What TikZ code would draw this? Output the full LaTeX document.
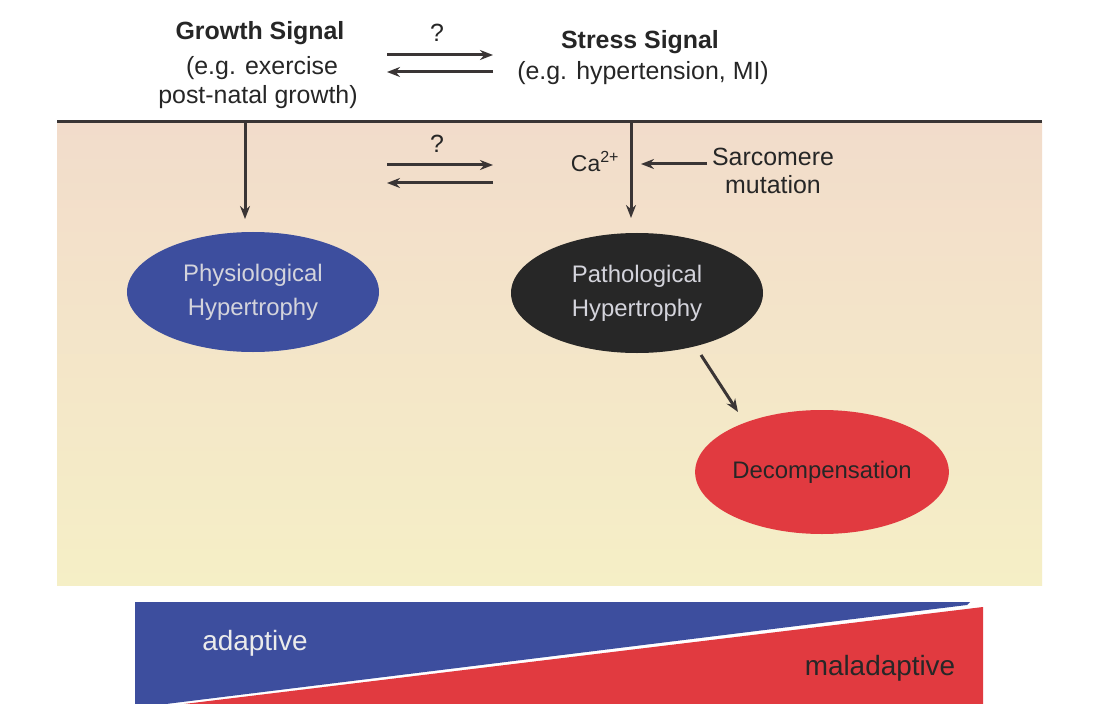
\documentclass[tikz,border=0pt]{standalone}
\usepackage{fontspec}
\setmainfont{Liberation Sans}
\usetikzlibrary{shapes.geometric,arrows.meta}
\definecolor{panTop}{HTML}{F2DCCB}
\definecolor{panBot}{HTML}{F5EFC6}
\definecolor{hypBlue}{HTML}{3D4E9E}
\definecolor{hypBlack}{HTML}{272727}
\definecolor{hypRed}{HTML}{E13A40}
\definecolor{lineGray}{HTML}{3A3535}
\definecolor{ellText}{HTML}{D4D4DC}
\tikzset{
  lbl/.style={inner sep=0pt, font=\fontsize{25}{28}\selectfont, text=black!85, align=center},
  lblb/.style={lbl, font=\fontsize{25}{28}\selectfont\bfseries},
  blob/.style={ellipse, minimum width=252bp, minimum height=120bp, inner sep=0pt,
    align=center, font=\fontsize{24}{34}\selectfont},
  arr/.style={-{Stealth[length=13bp,width=10bp]}, line width=3bp, draw=lineGray}
}
\begin{document}
\begin{tikzpicture}[x=1bp,y=-1bp]
\useasboundingbox (0,0) rectangle (1093,704);
\fill[white] (0,0) rectangle (1093,704);
% panel
\shade[top color=panTop, bottom color=panBot] (57,122) rectangle (1042,585);
% top labels
\node[lblb] (gs) at (260,33) {Growth Signal};
\node[lbl] (gs1) at (262,68) {(e.g. exercise};
\node[lbl] (gs2) at (258,97) {post-natal growth)};
\node[lblb] (ss) at (640,42) {Stress Signal};
\node[lbl] (ss1) at (643,73) {(e.g. hypertension, MI)};
\node[lbl] (q1) at (437,33) {?};
\coordinate (a1s) at (387,55); \coordinate (a1e) at (493,55);
\coordinate (a2s) at (493,72); \coordinate (a2e) at (387,72);
\draw[arr] (a1s) -- (a1e);
\draw[arr] (a2s) -- (a2e);
% horizontal line
\coordinate (hl) at (57,122); \coordinate (hr) at (1042,122);
\draw[lineGray, line width=3bp] (hl) -- (hr);
% ellipses
\node[blob, fill=hypBlue, text=ellText] (phys) at (253,292) {Physiological\\Hypertrophy};
\node[blob, fill=hypBlack, text=ellText] (path) at (637,293) {Pathological\\Hypertrophy};
\node[blob, fill=hypRed, text=black!85, minimum height=124bp] (dec) at (822,472) {Decompensation};
% vertical arrows
\coordinate (v1) at (245,122); \coordinate (v1e) at (245,219);
\coordinate (v2) at (631,122); \coordinate (v2e) at (631,218);
\draw[arr] (v1) -- (v1e);
\draw[arr] (v2) -- (v2e);
% middle question
\node[lbl] (q2) at (437,144) {?};
\coordinate (b1s) at (387,165); \coordinate (b1e) at (493,165);
\coordinate (b2s) at (493,183); \coordinate (b2e) at (387,183);
\draw[arr] (b1s) -- (b1e);
\draw[arr] (b2s) -- (b2e);
\node[lbl, font=\fontsize{23}{26}\selectfont] (ca) at (595,162) {Ca\textsuperscript{2+}};
\node[lbl] (sm) at (773,171) {Sarcomere\\mutation};
\coordinate (sme) at (641,164);
\coordinate (sms) at (707,164);
\draw[arr] (sms) -- (sme);
% diagonal arrow
\coordinate (d1) at (701,355); \coordinate (d2) at (738,412);
\draw[arr] (d1) -- (d2);
% bottom triangles
\fill[hypBlue] (135,602) -- (970,602) -- (967,605) -- (166,704) -- (135,704) -- cycle;
\fill[hypRed] (983,607) -- (983,704) -- (184,704) -- cycle;
\node[lbl, text=white!92!black, font=\fontsize{28}{30}\selectfont] (ad) at (255,643) {adaptive};
\node[lbl, text=hypBlack, font=\fontsize{28}{30}\selectfont] (mal) at (880,668) {maladaptive};
\end{tikzpicture}
\end{document}
